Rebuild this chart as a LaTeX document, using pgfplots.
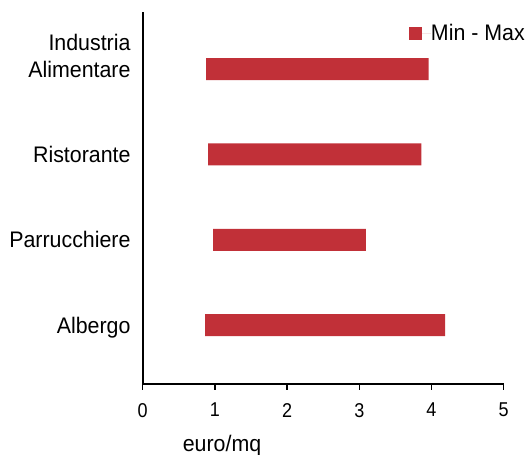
\documentclass[border=0pt]{standalone}
\usepackage{pgfplots}
\pgfplotsset{compat=1.18}
\usepackage{pgfplotstable}
\usepackage{fontspec}
\setmainfont{Liberation Sans}
\newfontfamily\condfont[FakeStretch=0.9]{Liberation Sans}
\newfontfamily\labfont[FakeStretch=0.95]{Liberation Sans}
\definecolor{barred}{RGB}{193,48,56}
\pgfplotstableread{
cat min max
0 0.864 4.19
1 0.975 3.09
2 0.905 3.86
3 0.878 3.96
}\ranges
\begin{document}
\begin{tikzpicture}
\begin{axis}[
  scale only axis,
  width=361pt, height=372pt,
  xbar stacked,
  bar width=22pt,
  xmin=0, xmax=5,
  ymin=-0.69, ymax=3.67,
  axis lines*=left,
  axis line style={-, line width=2pt, black},
  xtick={0,1,2,3,4,5},
  ytick={0,1,2,3},
  yticklabels={Albergo,Parrucchiere,Ristorante,{\begin{tabular}[b]{@{}r@{}}Industria\\Alimentare\end{tabular}}},
  tick align=outside,
  x tick style={black, line width=1.5pt},
  major tick length=6pt,
  y tick style={draw=none},
  /pgf/number format/assume math mode=true,
  xticklabel style={font=\condfont\fontsize{20}{22}\selectfont, inner sep=0pt, anchor=north, yshift=-13pt},
  yticklabel style={font=\labfont\fontsize{22.5}{26.6}\selectfont, inner sep=0pt, anchor=base east, xshift=-6pt, yshift=-8pt},
  xlabel={euro/mq},
  xlabel style={font=\labfont\fontsize{22.5}{26.6}\selectfont, at={(axis description cs:0.2197,-0.182)}, anchor=base, inner sep=0pt},
  legend style={draw=none, fill=none, at={(axis description cs:1.059,0.942)}, anchor=east, inner sep=0pt, font=\labfont\fontsize{22.5}{26.6}\selectfont, nodes={inner sep=0pt}},
  legend cell align=left,
  legend image code/.code={\fill[barred] (0pt,-6.5pt) rectangle (13pt,6.5pt); \path (0pt,0pt) -- (22pt,0pt);},
]
\addplot[draw=none, fill=none, forget plot] table[x=min, y=cat] {\ranges};
\addplot[draw=none, fill=barred] table[x expr=\thisrow{max}-\thisrow{min}, y=cat] {\ranges};
\addlegendentry{Min - Max}
\end{axis}
\pgfresetboundingbox
\path[use as bounding box] (-142.7pt,-71pt) rectangle (385.3pt,384pt);
\end{tikzpicture}
\end{document}
